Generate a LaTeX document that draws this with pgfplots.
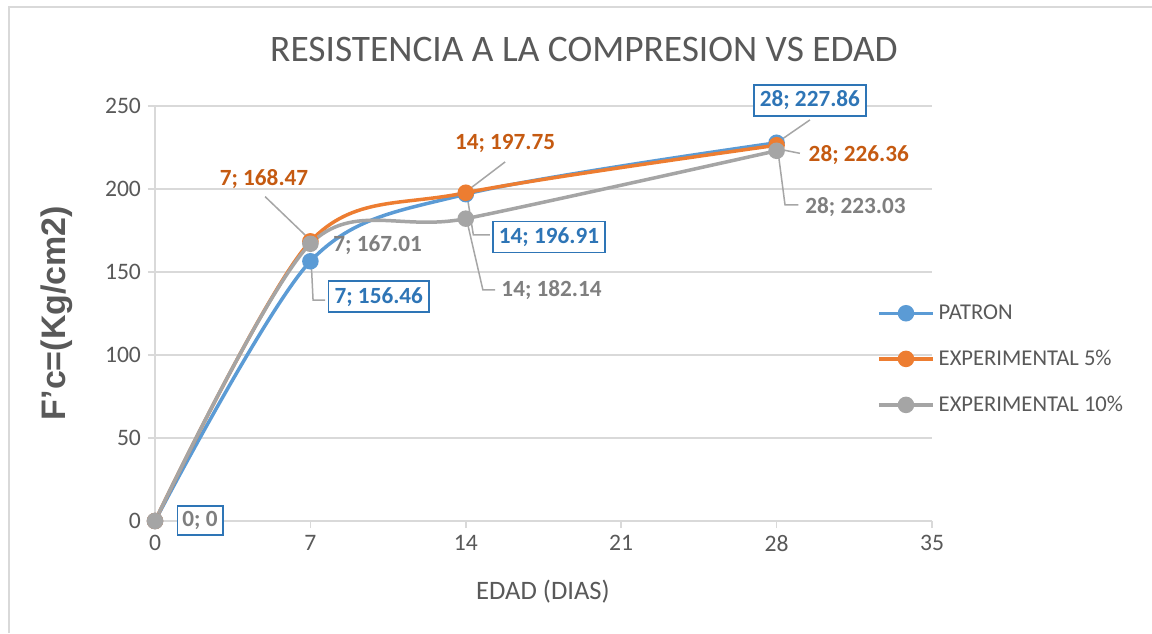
\documentclass[border=0pt]{standalone}
\usepackage{fontspec}
\setmainfont{Carlito}
\newfontfamily\arialfont{Liberation Sans}
\usepackage{pgfplots}
\pgfplotsset{compat=1.18}
\definecolor{cblue}{HTML}{5B9BD5}
\definecolor{corange}{HTML}{ED7D31}
\definecolor{cgray}{HTML}{A5A5A5}
\definecolor{lblue}{HTML}{2E75B6}
\definecolor{lorange}{HTML}{C55A11}
\definecolor{lgray}{HTML}{7F7F7F}
\definecolor{txt}{HTML}{595959}
\definecolor{gridc}{HTML}{D9D9D9}
\definecolor{leader}{HTML}{A6A6A6}
\newcommand\lf{\fontsize{11.6}{13}\selectfont\bfseries}
\begin{document}
\begin{tikzpicture}
\useasboundingbox (0,0) rectangle (576pt,316.5pt);
\fill[white] (0,0) rectangle (576pt,316.5pt);
\draw[gridc, line width=0.9pt] (4.5pt,0) -- (4.5pt,313pt) -- (576pt,313pt);
\node[text=txt, font=\fontsize{18.7}{20}\selectfont] at (292pt,292pt) {RESISTENCIA A LA COMPRESION VS EDAD};
\node[text=txt, font=\fontsize{13.3}{15}\selectfont] at (271.5pt,20.5pt) {EDAD (DIAS)};
\node[text=txt, font=\arialfont\bfseries\fontsize{17}{19}\selectfont, rotate=90] at (28.5pt,160pt) {F’c=(Kg/cm2)};
\begin{axis}[
  at={(77.5pt,56pt)}, anchor=south west,
  scale only axis, width=388.5pt, height=207.5pt,
  xmin=0, xmax=35, ymin=0, ymax=250,
  xtick={0,7,...,35}, ytick={0,50,...,250},
  axis x line*=bottom, axis y line*=left,
  axis line style={gridc, line width=0.75pt},
  major tick style={gridc, line width=0.75pt},
  tick align=outside, major tick length=3.5pt,
  ymajorgrids, grid style={gridc, line width=0.75pt},
  ticklabel style={font=\fontsize{11.8}{13}\selectfont, text=txt},
  /pgf/number format/assume math mode=true,
  clip=false,
  legend style={at={(0.929,0.5325)}, anchor=north west, draw=none, fill=none,
    font=\fontsize{11.3}{13}\selectfont, text=txt, row sep=9.8pt, inner sep=0pt},
  legend cell align=left,
  legend image code/.code={\draw[#1, mark repeat=2, mark phase=2] plot coordinates {(0pt,0pt)(13.5pt,0pt)(27pt,0pt)};},
]
\addplot[cblue, line width=1.75pt, smooth, tension=0.5, mark=*, mark size=3.25pt, mark options={fill=cblue, draw=cblue, solid}]
  coordinates {(0,0)(7,156.46)(14,196.91)(28,227.86)};
\addlegendentry{PATRON}
\addplot[corange, line width=1.75pt, smooth, tension=0.5, mark=*, mark size=3.25pt, mark options={fill=corange, draw=corange, solid}]
  coordinates {(0,0)(7,168.47)(14,197.75)(28,226.36)};
\addlegendentry{EXPERIMENTAL 5\%}
\addplot[cgray, line width=1.75pt, smooth, tension=0.5, mark=*, mark size=3.25pt, mark options={fill=cgray, draw=cgray, solid}]
  coordinates {(0,0)(7,167.01)(14,182.14)(28,223.03)};
\addlegendentry{EXPERIMENTAL 10\%}

% leader lines
\draw[leader, line width=0.75pt] (axis cs:4.96,195.4) -- (axis cs:6.83,171.4);
\draw[leader, line width=0.75pt] (axis cs:7.05,152.4) -- (axis cs:7.12,133.1) -- (axis cs:7.66,133.1);
\draw[leader, line width=0.75pt] (axis cs:15.77,216.3) -- (axis cs:14.05,198.8);
\draw[leader, line width=0.75pt] (axis cs:14.07,195) -- (axis cs:14.34,172.3) -- (axis cs:15.09,172.3);
\draw[leader, line width=0.75pt] (axis cs:14.1,178) -- (axis cs:14.77,139.2) -- (axis cs:15.32,139.2);
\draw[leader, line width=0.75pt] (axis cs:29.5,241.6) -- (axis cs:28.08,228.5);
\draw[leader, line width=0.75pt] (axis cs:28.3,223.5) -- (axis cs:29.05,221.5);
\draw[leader, line width=0.75pt] (axis cs:28.08,221) -- (axis cs:28.38,190.4) -- (axis cs:28.98,190.4);

% data labels
\node[draw=lblue, line width=0.9pt, fill=white, text=lgray, font=\lf, inner xsep=2.5pt, inner ysep=2.5pt] at (axis cs:2.03,0.3) {0; 0};
\node[text=lorange, font=\lf] at (axis cs:4.91,206.2) {7; 168.47};
\node[text=lgray, font=\lf, anchor=west, inner sep=0pt] at (axis cs:8.02,166.3) {7; 167.01};
\node[draw=lblue, line width=0.9pt, fill=white, text=lblue, font=\lf, inner xsep=3pt, inner ysep=3pt] at (axis cs:10.08,135.1) {7; 156.46};
\node[text=lorange, font=\lf] at (axis cs:15.77,227.7) {14; 197.75};
\node[draw=lblue, line width=0.9pt, fill=white, text=lblue, font=\lf, inner xsep=3pt, inner ysep=3pt] at (axis cs:17.75,171.1) {14; 196.91};
\node[text=lgray, font=\lf, anchor=west, inner sep=0pt] at (axis cs:15.59,139.2) {14; 182.14};
\node[draw=lblue, line width=0.9pt, fill=white, text=lblue, font=\lf, inner xsep=3pt, inner ysep=3pt] at (axis cs:29.5,253.3) {28; 227.86};
\node[text=lorange, font=\lf, anchor=west, inner sep=0pt] at (axis cs:29.43,220.5) {28; 226.36};
\node[text=lgray, font=\lf, anchor=west, inner sep=0pt] at (axis cs:29.28,189.3) {28; 223.03};
\end{axis}
\end{tikzpicture}
\end{document}
